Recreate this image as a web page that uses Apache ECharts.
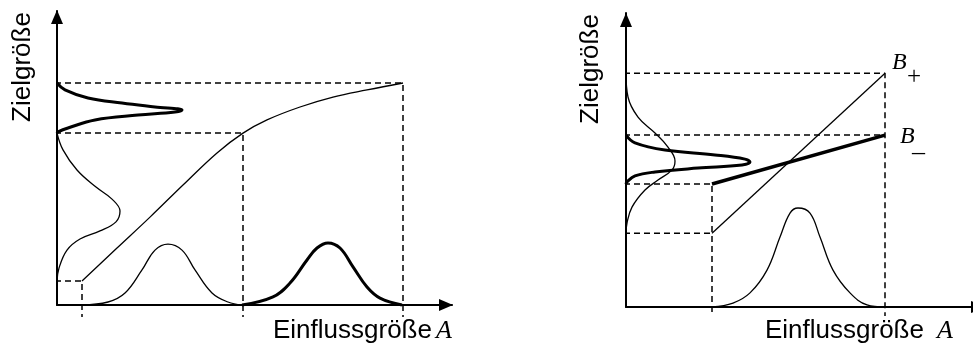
<!DOCTYPE html>
<html>
<head>
<meta charset="utf-8">
<script src="https://cdn.jsdelivr.net/npm/echarts@6/dist/echarts.min.js"></script>
<style>
html,body{margin:0;padding:0;background:#fff;}
#chart{width:973px;height:344px;}
</style>
</head>
<body>
<div id="chart"></div>
<script>
// ---------- LEFT PANEL (nonlinear transfer) ----------
// input levels on Einflussgröße axis and matching output levels on Zielgröße axis
const leftInputLevels  = [6.25, 46.5, 86.5];
const leftOutputLevels = [8, 57.3, 74];
// transfer curve (x, y)
const leftCurveX = [6.25, 15, 23.25, 31.5, 40, 46.5, 52.5, 60.75, 69, 77.5, 86.5];
const leftCurveY = [8, 19, 29.3, 40, 50.7, 57.3, 61.7, 66, 69.3, 71.7, 74];
// input distribution 1 (thin) on x axis
const leftIn1X = [6.25, 12.75, 17, 21.25, 24.5, 27.75, 31.25, 34.5, 38.75, 42.75, 46.25];
const leftIn1Y = [0, 1, 4, 11.7, 18.3, 20.3, 18.3, 11.7, 4, 1, 0];
// input distribution 2 (thick) on x axis
const leftIn2X = [46.25, 54, 58.25, 62.5, 65, 67.75, 70.75, 74, 77.5, 80.75, 86.25];
const leftIn2Y = [0, 2.7, 7.3, 15, 19, 20.7, 19, 12.7, 6, 2.3, 0];
// output distribution of input 2 (thick) on y axis: density (x) vs value (y)
const leftOut2D = [0, 2, 7.75, 16.25, 24.5, 31.25, 29.5, 20.25, 9.5, 2.75, 0.25, 0];
const leftOut2V = [74, 71.7, 69, 67.3, 66, 65, 64.3, 63.3, 61.7, 59, 57.7, 57.3];
// output distribution of input 1 (thin) on y axis
const leftOut1D = [0, 1.5, 5, 9.75, 13.75, 15.75, 14.75, 10.75, 5.75, 2.5, 0.5, 0];
const leftOut1V = [57.3, 51.7, 45, 39.3, 35.3, 31.3, 27.7, 24.7, 22, 18.3, 12.3, 8];

// ---------- RIGHT PANEL (two linear transfers B+ / B-) ----------
const rightInputLevels = [21.5, 64.75];
const bPlusY  = [24.6, 77.9];   // B+ output at the two input levels
const bMinusY = [41, 57.3];     // B- output at the two input levels
const rightInX = [21.5, 26.75, 31, 35.25, 38.5, 41, 43, 46, 48.5, 51.75, 56, 60.25, 64.75];
const rightInY = [0, 1.3, 4.7, 12.3, 23.3, 31.3, 33, 31.3, 23.3, 12.3, 4.7, 0.7, 0];
// output distribution through B+ (thin)
const rightOutPlusD = [0, 0.5, 3, 7.25, 10.5, 12.25, 11.5, 8, 4.75, 1.5, 0.25, 0];
const rightOutPlusV = [77.9, 70, 63.3, 58, 53.3, 48.7, 45.7, 42.3, 39, 33.3, 28, 24.6];
// output distribution through B- (thick)
const rightOutMinusD = [0, 2.25, 9.75, 22.25, 29.75, 31, 29, 18, 7.25, 2.25, 0.25, 0];
const rightOutMinusV = [57.3, 54.7, 52.3, 50.7, 49.3, 48.3, 47.3, 46.3, 45, 43.7, 41.7, 41];

// ---------- helpers ----------
const zip = (a, b) => a.map((v, i) => [v, b[i]]);
const EXT = -3; // how far the dashed guide lines reach past the axes (data units)
const thin = 1.3, thick = 3;

function curve(xi, yi, data, width) {
  return {type: 'line', xAxisIndex: xi, yAxisIndex: yi, data: data, symbol: 'none',
    smooth: 0.4, clip: false, silent: true,
    lineStyle: {color: '#000', width: width}};
}
function dashed(xi, yi, data) {
  return {type: 'line', xAxisIndex: xi, yAxisIndex: yi, data: data, symbol: 'none',
    clip: false, silent: true, lineStyle: {color: '#000', width: 1.5, type: [6, 4]}};
}
function axis(gi, max, arrowShift) {
  return {gridIndex: gi, type: 'value', min: 0, max: max,
    axisLine: {show: true, onZero: false, symbol: ['none', 'triangle'], symbolSize: [12, 14],
      symbolOffset: [0, arrowShift], lineStyle: {color: '#000', width: 2}},
    axisTick: {show: false}, axisLabel: {show: false}, splitLine: {show: false}};
}

const series = [];
// left dashed guides
leftInputLevels.forEach((x, i) => {
  const y = leftOutputLevels[i];
  series.push(dashed(0, 0, [[EXT, y], [x, y], [x, -4]]));
});
series.push(curve(0, 0, zip(leftCurveX, leftCurveY), thin));
series.push(curve(0, 0, zip(leftIn1X, leftIn1Y), thin));
series.push(curve(0, 0, zip(leftIn2X, leftIn2Y), thick));
series.push(curve(0, 0, zip(leftOut2D, leftOut2V), thick));
series.push(curve(0, 0, zip(leftOut1D, leftOut1V), thin));

// right dashed guides
series.push(dashed(1, 1, [[EXT, bPlusY[0]], [rightInputLevels[0], bPlusY[0]]]));
series.push(dashed(1, 1, [[EXT, bMinusY[0]], [rightInputLevels[0], bMinusY[0]], [rightInputLevels[0], -3]]));
series.push(dashed(1, 1, [[EXT, bMinusY[1]], [rightInputLevels[1], bMinusY[1]]]));
series.push(dashed(1, 1, [[EXT, bPlusY[1]], [rightInputLevels[1], bPlusY[1]], [rightInputLevels[1], -3]]));
series.push({type: 'line', xAxisIndex: 1, yAxisIndex: 1, data: zip(rightInputLevels, bPlusY),
  symbol: 'none', clip: false, lineStyle: {color: '#000', width: thin}});
series.push({type: 'line', xAxisIndex: 1, yAxisIndex: 1, data: zip(rightInputLevels, bMinusY),
  symbol: 'none', clip: false, lineStyle: {color: '#000', width: 3.5}});
series.push(curve(1, 1, zip(rightInX, rightInY), thin));
series.push(curve(1, 1, zip(rightOutPlusD, rightOutPlusV), thin));
series.push(curve(1, 1, zip(rightOutMinusD, rightOutMinusV), thick));

const sans = '"Liberation Sans", Arial, sans-serif';
const serif = '"Liberation Serif", "Times New Roman", serif';
const txt = (x, y, text, font, extra) => Object.assign({type: 'text', x: x, y: y, silent: true,
  style: {text: text, font: font, fill: '#000', textAlign: 'left', textVerticalAlign: 'middle'}}, extra || {});

const option = {
  animation: false,
  backgroundColor: '#fff',
  grid: [
    {left: 57, top: 11, width: 395, height: 294},
    {left: 626, top: 13, width: 346, height: 294}
  ],
  xAxis: [axis(0, 98.75, -6), axis(1, 86.5, 6)],
  yAxis: [axis(0, 98, -6), axis(1, 98, -7)],
  series: series,
  graphic: [
    txt(23, 67, 'Zielgröße', '26px ' + sans, {rotation: Math.PI / 2}),
    txt(591, 69, 'Zielgröße', '26px ' + sans, {rotation: Math.PI / 2}),
    txt(273, 331, 'Einflussgröße', '26px ' + sans),
    txt(436, 331, 'A', 'italic 26px ' + serif),
    txt(765, 331, 'Einflussgröße', '26px ' + sans),
    txt(937, 331, 'A', 'italic 26px ' + serif),
    txt(892, 63, 'B', 'italic 24px ' + serif),
    txt(907, 77, '+', '25px ' + serif),
    txt(900, 137, 'B', 'italic 24px ' + serif),
    txt(912, 153, '\u2013', '26px ' + serif)
  ]
};
option.graphic[0].style.textAlign = 'center';
option.graphic[1].style.textAlign = 'center';

const chart = echarts.init(document.getElementById('chart'), null, {renderer: 'canvas'});
chart.setOption(option);
</script>
</body>
</html>
